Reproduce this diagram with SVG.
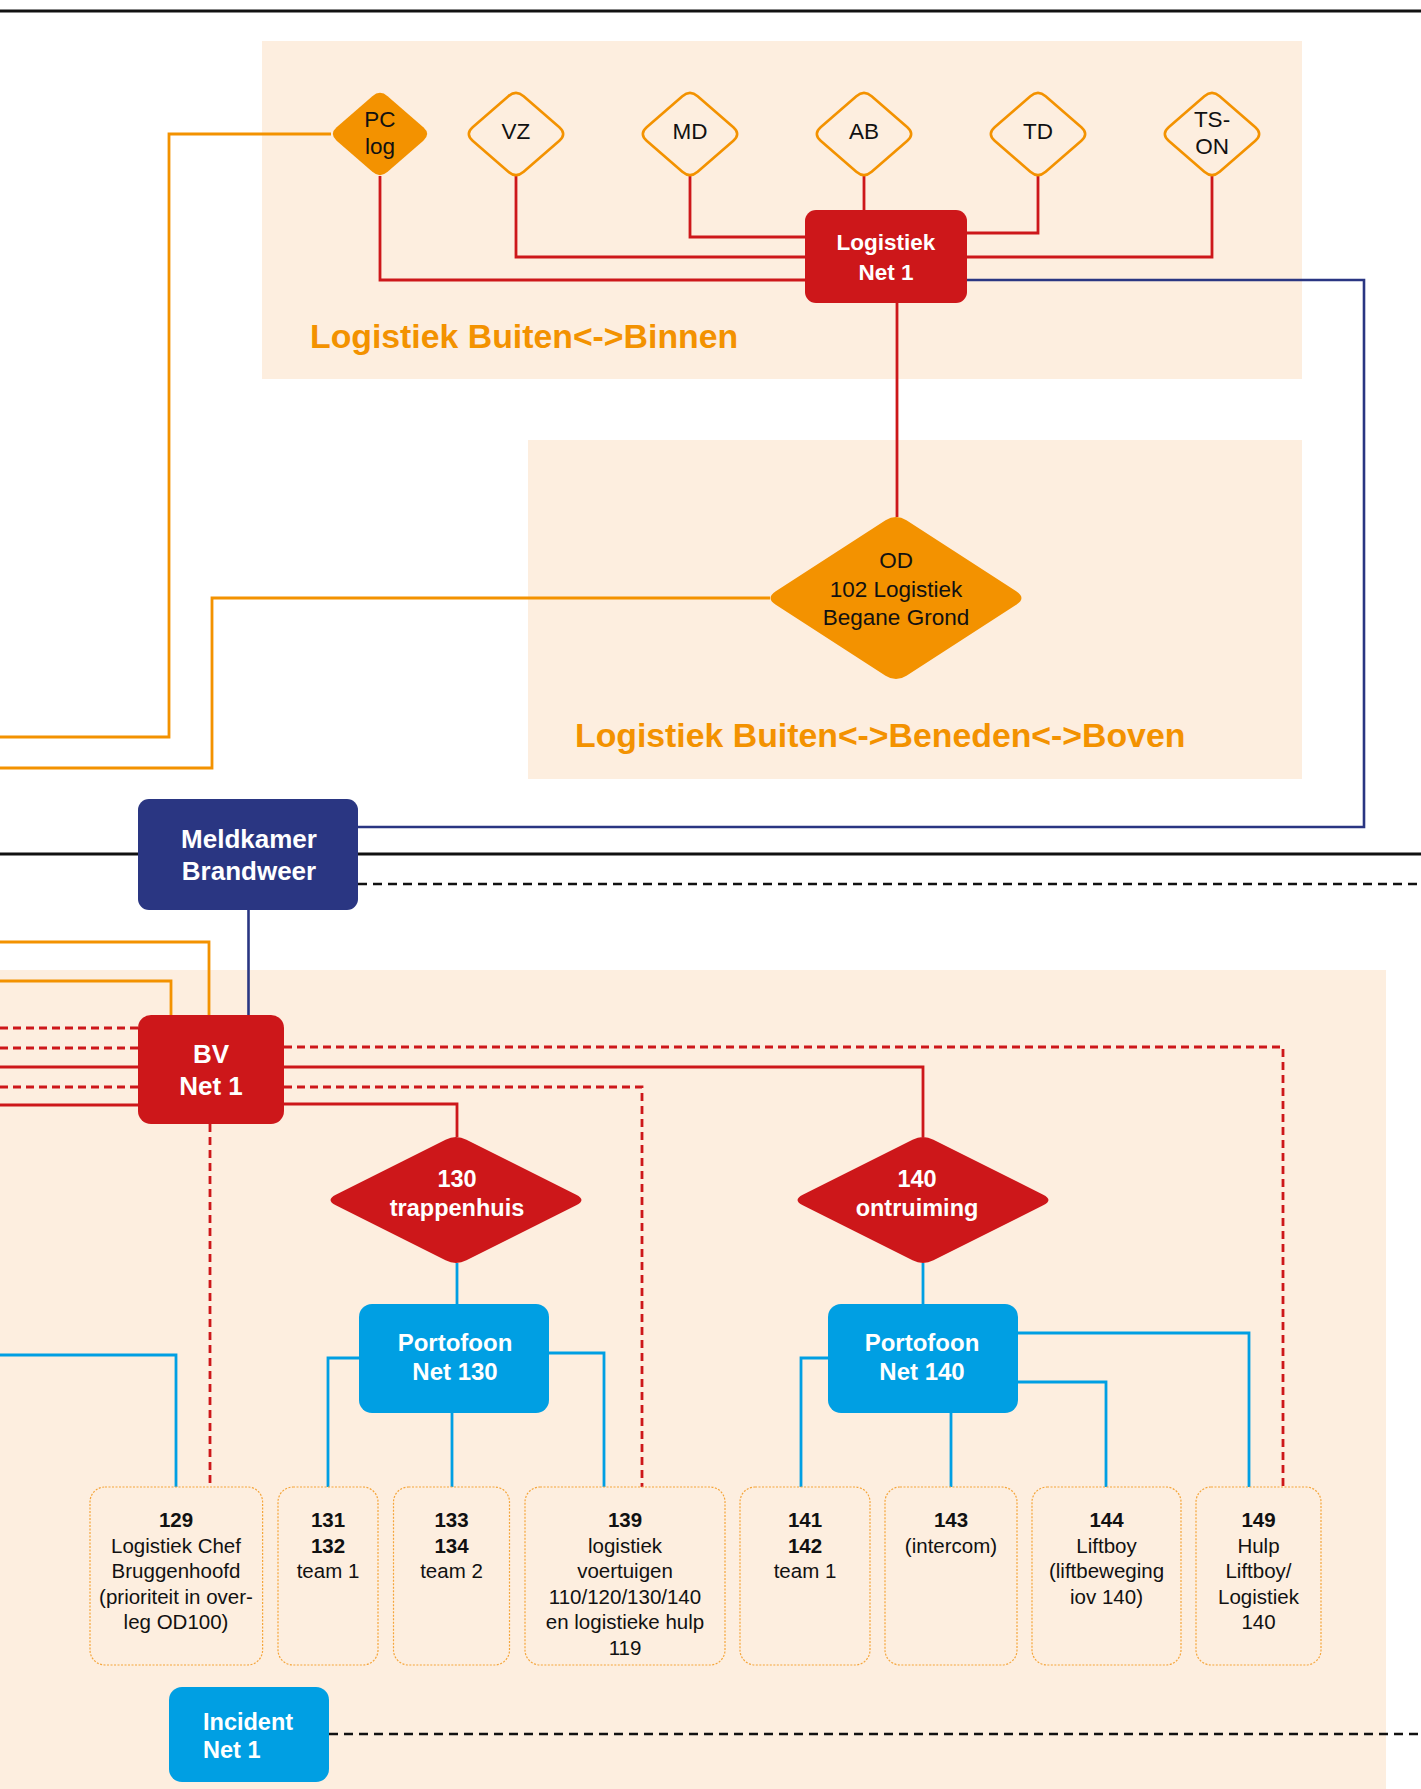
<svg xmlns="http://www.w3.org/2000/svg" xmlns:xlink="http://www.w3.org/1999/xlink" width="1421" height="1789" viewBox="0 0 1421 1789">
<style>
text{font-family:"Liberation Sans",Arial,sans-serif;text-anchor:middle}
.bg{fill:#fdeedf}
.red{stroke:#cd171a;stroke-width:2.8;fill:none}
.redd{stroke:#cd171a;stroke-width:2.8;fill:none;stroke-dasharray:8 5}
.org{stroke:#f39200;stroke-width:2.8;fill:none}
.blu{stroke:#2a3682;stroke-width:2.6;fill:none}
.cya{stroke:#009fe3;stroke-width:2.8;fill:none}
.blk{stroke:#111;stroke-width:2.8;fill:none}
.blkd{stroke:#111;stroke-width:2.6;fill:none;stroke-dasharray:9 6}
.dmo{fill:none;stroke:#f39200;stroke-width:2.6}
.dmf{fill:#f39200;stroke:none}
.dmr{fill:#cd171a}
.bxr{fill:#cd171a}
.bxb{fill:#2a3682}
.bxc{fill:#009fe3}
.bxd{fill:#fdeedf;stroke:#f5a53a;stroke-width:1.2;stroke-dasharray:2 1.5}
.k{fill:#111;font-size:22.5px}
.wb{fill:#fff;font-weight:bold}
.sec{fill:#f39200;font-weight:bold;font-size:33.8px;text-anchor:start}
.bt{fill:#111;font-size:20.5px}
.bt .b{font-weight:bold}
</style>
<defs>
<path id="sd" d="M7.65,-37.83 L43.35,-6.68 Q51,0 43.35,6.68 L7.65,37.83 Q0,44.5 -7.65,37.83 L-43.35,6.68 Q-51,0 -43.35,-6.68 L-7.65,-37.83 Q0,-44.5 7.65,-37.83 Z"/>
<path id="ld" d="M10.46,-77.65 L120.24,-6.75 Q130.7,0 120.24,6.75 L10.46,77.65 Q0,84.4 -10.46,77.65 L-120.24,6.75 Q-130.7,0 -120.24,-6.75 L-10.46,-77.65 Q0,-84.4 10.46,-77.65 Z"/>
<path id="md" d="M10.46,-60.35 L120.24,-5.25 Q130.7,0 120.24,5.25 L10.46,60.35 Q0,65.6 -10.46,60.35 L-120.24,5.25 Q-130.7,0 -120.24,-5.25 L-10.46,-60.35 Q0,-65.6 10.46,-60.35 Z"/>
</defs>

<g id="backgrounds">
<rect class="bg" x="262" y="41" width="1040" height="338"/>
<rect class="bg" x="528" y="440" width="774" height="339"/>
<rect class="bg" x="0" y="970" width="1386" height="819"/>
<text class="sec" x="310" y="348">Logistiek Buiten&lt;-&gt;Binnen</text>
<text class="sec" x="575" y="747">Logistiek Buiten&lt;-&gt;Beneden&lt;-&gt;Boven</text>
</g>

<g id="connectors">
<line class="blk" x1="0" y1="11" x2="1421" y2="11"/>
<line class="blk" x1="0" y1="854" x2="1421" y2="854"/>
<line class="blkd" x1="358" y1="884" x2="1421" y2="884"/>
<line class="blkd" x1="329" y1="1734" x2="1421" y2="1734"/>
<path class="red" d="M380,176 V280 H805"/>
<path class="red" d="M516,176 V257 H805"/>
<path class="red" d="M690,176 V237 H805"/>
<path class="red" d="M864,176 V210"/>
<path class="red" d="M1038,176 V233 H967"/>
<path class="red" d="M1212,176 V257 H967"/>
<path class="red" d="M897,303 V517"/>
<path class="blu" d="M967,280 H1364 V827 H358"/>
<path class="org" d="M331,134 H169 V737 H0"/>
<path class="org" d="M770,598 H212 V768 H0"/>
<path class="blu" d="M248.5,910 V1015"/>
<path class="org" d="M0,942 H209 V1015"/>
<path class="org" d="M0,981 H171 V1015"/>
<path class="redd" d="M0,1028 H138"/>
<path class="redd" d="M0,1048 H138"/>
<path class="red" d="M0,1067 H138"/>
<path class="redd" d="M0,1087 H138"/>
<path class="red" d="M0,1105 H138"/>
<path class="redd" d="M284,1047 H1283 V1487"/>
<path class="red" d="M284,1067 H923 V1137"/>
<path class="redd" d="M284,1087 H642 V1487"/>
<path class="red" d="M284,1104 H457 V1137"/>
<path class="redd" d="M210,1124 V1487"/>
<path class="cya" d="M457,1263 V1304"/>
<path class="cya" d="M923,1263 V1304"/>
<path class="cya" d="M0,1355 H176 V1487"/>
<path class="cya" d="M359,1358 H328 V1487"/>
<path class="cya" d="M452,1413 V1487"/>
<path class="cya" d="M549,1353 H604 V1487"/>
<path class="cya" d="M828,1358 H801 V1487"/>
<path class="cya" d="M951,1413 V1487"/>
<path class="cya" d="M1018,1382 H1106 V1487"/>
<path class="cya" d="M1018,1333 H1249 V1487"/>
</g>

<g id="n-pclog"><use href="#sd" x="380" y="134" class="dmf"/><text class="k" x="380" y="127">PC</text><text class="k" x="380" y="154">log</text></g>
<g id="n-vz"><use href="#sd" x="516" y="134" class="dmo"/><text class="k" x="516" y="139">VZ</text></g>
<g id="n-md"><use href="#sd" x="690" y="134" class="dmo"/><text class="k" x="690" y="139">MD</text></g>
<g id="n-ab"><use href="#sd" x="864" y="134" class="dmo"/><text class="k" x="864" y="139">AB</text></g>
<g id="n-td"><use href="#sd" x="1038" y="134" class="dmo"/><text class="k" x="1038" y="139">TD</text></g>
<g id="n-tson"><use href="#sd" x="1212" y="134" class="dmo"/><text class="k" x="1212" y="127">TS-</text><text class="k" x="1212" y="154">ON</text></g>

<g id="n-lognet1"><rect class="bxr" x="805" y="210" width="162" height="93" rx="11"/><text class="wb" style="font-size:22.5px" x="886" y="249.5">Logistiek</text><text class="wb" style="font-size:22.5px" x="886" y="280">Net 1</text></g>

<g id="n-od"><use href="#ld" x="896" y="598" class="dmf"/><text class="k" x="896" y="568">OD</text><text class="k" x="896" y="596.5">102 Logistiek</text><text class="k" x="896" y="625">Begane Grond</text></g>

<g id="n-meldkamer"><rect class="bxb" x="138" y="799" width="220" height="111" rx="11"/><text class="wb" style="font-size:26px" x="249" y="848">Meldkamer</text><text class="wb" style="font-size:26px" x="249" y="880">Brandweer</text></g>

<g id="n-bv"><rect class="bxr" x="138" y="1015" width="146" height="109" rx="13"/><text class="wb" style="font-size:26px" x="211" y="1063">BV</text><text class="wb" style="font-size:26px" x="211" y="1095">Net 1</text></g>

<g id="n-130"><use href="#md" x="456" y="1200" class="dmr"/><text class="wb" style="font-size:23.5px" x="457" y="1187">130</text><text class="wb" style="font-size:23.5px" x="457" y="1216">trappenhuis</text></g>
<g id="n-140"><use href="#md" x="923" y="1200" class="dmr"/><text class="wb" style="font-size:23.5px" x="917" y="1187">140</text><text class="wb" style="font-size:23.5px" x="917" y="1216">ontruiming</text></g>

<g id="n-port130"><rect class="bxc" x="359" y="1304" width="190" height="109" rx="13"/><text class="wb" style="font-size:24px" x="455" y="1351">Portofoon</text><text class="wb" style="font-size:24px" x="455" y="1380">Net 130</text></g>
<g id="n-port140"><rect class="bxc" x="828" y="1304" width="190" height="109" rx="13"/><text class="wb" style="font-size:24px" x="922" y="1351">Portofoon</text><text class="wb" style="font-size:24px" x="922" y="1380">Net 140</text></g>

<g id="n-129"><rect class="bxd" x="90" y="1487" width="172.6" height="178" rx="15"/><text class="bt" x="176" y="1527"><tspan class="b">129</tspan><tspan x="176" dy="25.5">Logistiek Chef</tspan><tspan x="176" dy="25.5">Bruggenhoofd</tspan><tspan x="176" dy="25.5">(prioriteit in over-</tspan><tspan x="176" dy="25.5">leg OD100)</tspan></text></g>
<g id="n-131"><rect class="bxd" x="278" y="1487" width="100" height="178" rx="15"/><text class="bt" x="328" y="1527"><tspan class="b">131</tspan><tspan class="b" x="328" dy="25.5">132</tspan><tspan x="328" dy="25.5">team 1</tspan></text></g>
<g id="n-133"><rect class="bxd" x="393.5" y="1487" width="116" height="178" rx="15"/><text class="bt" x="451.5" y="1527"><tspan class="b">133</tspan><tspan class="b" x="451.5" dy="25.5">134</tspan><tspan x="451.5" dy="25.5">team 2</tspan></text></g>
<g id="n-139"><rect class="bxd" x="525" y="1487" width="200" height="178" rx="15"/><text class="bt" x="625" y="1527"><tspan class="b">139</tspan><tspan x="625" dy="25.5">logistiek</tspan><tspan x="625" dy="25.5">voertuigen</tspan><tspan x="625" dy="25.5">110/120/130/140</tspan><tspan x="625" dy="25.5">en logistieke hulp</tspan><tspan x="625" dy="25.5">119</tspan></text></g>
<g id="n-141"><rect class="bxd" x="740" y="1487" width="130" height="178" rx="15"/><text class="bt" x="805" y="1527"><tspan class="b">141</tspan><tspan class="b" x="805" dy="25.5">142</tspan><tspan x="805" dy="25.5">team 1</tspan></text></g>
<g id="n-143"><rect class="bxd" x="885" y="1487" width="132" height="178" rx="15"/><text class="bt" x="951" y="1527"><tspan class="b">143</tspan><tspan x="951" dy="25.5">(intercom)</tspan></text></g>
<g id="n-144"><rect class="bxd" x="1032" y="1487" width="149" height="178" rx="15"/><text class="bt" x="1106.5" y="1527"><tspan class="b">144</tspan><tspan x="1106.5" dy="25.5">Liftboy</tspan><tspan x="1106.5" dy="25.5">(liftbeweging</tspan><tspan x="1106.5" dy="25.5">iov 140)</tspan></text></g>
<g id="n-149"><rect class="bxd" x="1196" y="1487" width="125" height="178" rx="15"/><text class="bt" x="1258.5" y="1527"><tspan class="b">149</tspan><tspan x="1258.5" dy="25.5">Hulp</tspan><tspan x="1258.5" dy="25.5">Liftboy/</tspan><tspan x="1258.5" dy="25.5">Logistiek</tspan><tspan x="1258.5" dy="25.5">140</tspan></text></g>

<g id="n-incident"><rect class="bxc" x="169" y="1687" width="160" height="95" rx="13"/><text class="wb" style="font-size:23.5px;text-anchor:start" x="203" y="1730">Incident</text><text class="wb" style="font-size:23.5px;text-anchor:start" x="203" y="1758">Net 1</text></g>
</svg>
